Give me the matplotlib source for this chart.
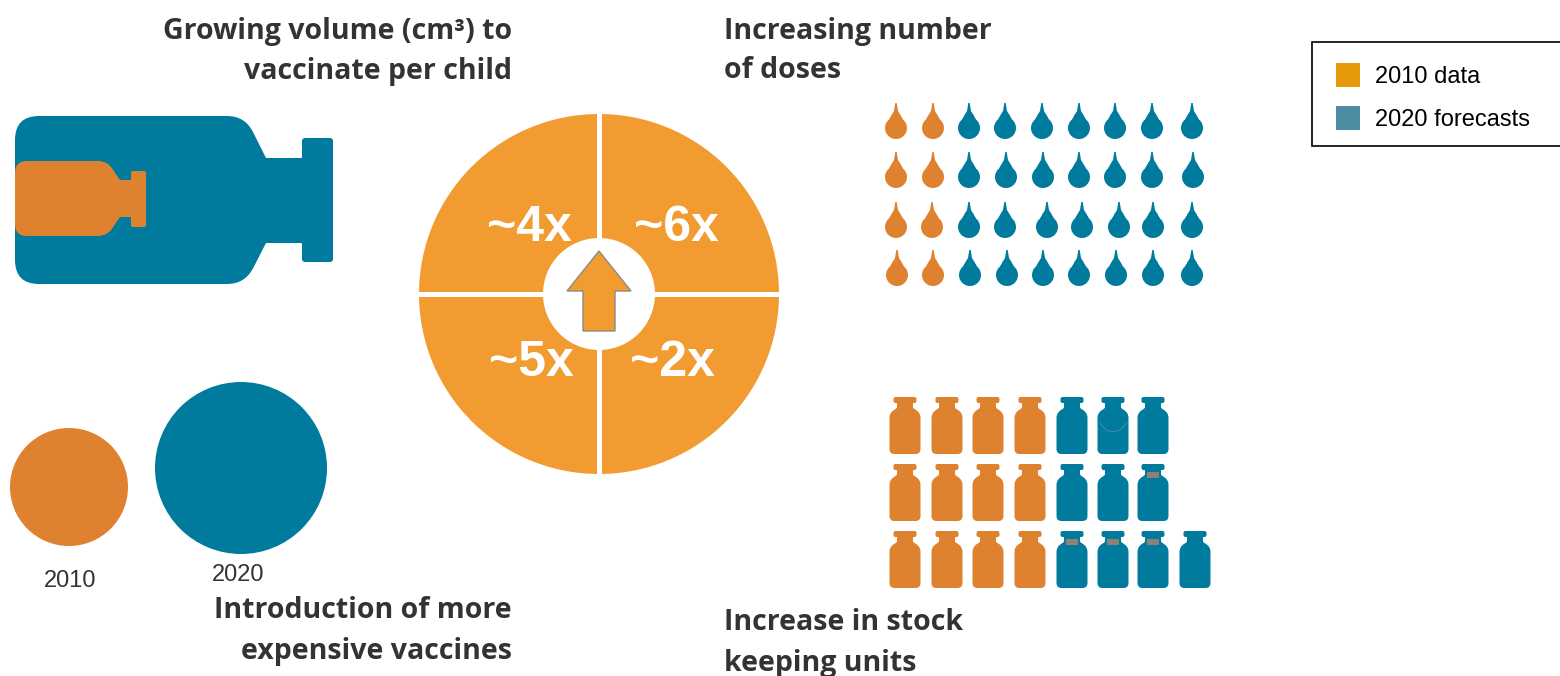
import matplotlib
matplotlib.use('Agg')
import numpy as np
import matplotlib.pyplot as plt
from matplotlib.patches import Circle, PathPatch, Polygon, Rectangle
from matplotlib.path import Path

# data
quadrant_labels = ['~4x', '~6x', '~5x', '~2x']
doses_2010 = [2, 2, 2, 2]
doses_2020 = [7, 7, 7, 7]
skus_2010 = [4, 4, 4]
skus_2020 = [3, 3, 4]
legend_labels = ['2010 data', '2020 forecasts']
year_labels = ['2010', '2020']

ORANGE = '#DE8230'
TEAL = '#007B9E'
WHEEL = '#F29B30'

# layout, pixels
drop_x = [[896, 933, 969, 1005, 1042, 1079, 1115, 1152, 1192],
          [896, 933, 969, 1006, 1043, 1079, 1115, 1152, 1193],
          [896, 932, 969, 1005, 1047, 1082, 1119, 1153, 1192],
          [897, 933, 970, 1007, 1043, 1079, 1116, 1153, 1192]]
drop_y = [128, 177, 227, 275]
vial_x = [905, 947, 988, 1030, 1072, 1113, 1153, 1195]
vial_top = [397, 464, 531]
# vials with the grey band on the neck: (row, column)
grey_necks = [(1, 6), (2, 4), (2, 5), (2, 6)]


def rounded(points, radii):
    # closed path through points, with corners cut by quadratic curves
    pts = np.array(points, dtype=float)
    n = len(pts)
    verts, codes = [], []
    for i in range(n):
        p, a, b = pts[i], pts[i - 1], pts[(i + 1) % n]
        r = radii[i]
        u = (a - p) / np.linalg.norm(a - p)
        v = (b - p) / np.linalg.norm(b - p)
        verts.append(p + u * r)
        codes.append(Path.MOVETO if i == 0 else Path.LINETO)
        verts += [p, p + v * r]
        codes += [Path.CURVE3, Path.CURVE3]
    verts.append(verts[0])
    codes.append(Path.CLOSEPOLY)
    return Path(verts, codes)


def add_drop(ax, cx, cy, color):
    r = 11
    t = np.radians(np.linspace(-50, 230, 40))
    body = np.column_stack([cx + r * np.cos(t), cy + r * np.sin(t)])
    right = [(cx + 0.7, cy - 25), (cx + 2, cy - 17), (cx + 4.5, cy - 13)]
    left = [(cx - 4.5, cy - 13), (cx - 2, cy - 17), (cx - 0.7, cy - 25)]
    ax.add_patch(Polygon(np.vstack([right, body, left]), closed=True, fc=color, ec='none'))


def add_vial(ax, cx, top, color):
    w, h = 15.5, 57
    pts = [(cx - 11.5, top), (cx + 11.5, top), (cx + 11.5, top + 6), (cx + 8, top + 6),
           (cx + 8, top + 11), (cx + w, top + 16), (cx + w, top + h), (cx - w, top + h),
           (cx - w, top + 16), (cx - 8, top + 11), (cx - 8, top + 6), (cx - 11.5, top + 6)]
    rad = [2, 2, 2, 0.5, 1, 5, 5, 5, 5, 1, 0.5, 2]
    ax.add_patch(PathPatch(rounded(pts, rad), fc=color, ec='none'))


fig = plt.figure(figsize=(15.6, 6.76), dpi=100)
ax = fig.add_axes([0, 0, 1, 1])
ax.set_xlim(0, 1560)
ax.set_ylim(676, 0)
ax.axis('off')

# big and small bottle
big = [(15, 116), (245, 116), (266, 158), (302, 158), (302, 138), (333, 138), (333, 262),
       (302, 262), (302, 243), (266, 243), (245, 284), (15, 284)]
ax.add_patch(PathPatch(rounded(big, [24, 18, 1, 1, 3, 3, 3, 3, 1, 1, 18, 24]), fc=TEAL, ec='none'))
small = [(15, 161), (107, 161), (120, 180), (131, 180), (131, 171), (146, 171), (146, 227),
         (131, 227), (131, 217), (120, 217), (107, 236), (15, 236)]
ax.add_patch(PathPatch(rounded(small, [12, 9, 1, 1, 2, 2, 2, 2, 1, 1, 9, 12]), fc=ORANGE, ec='none'))

# price circles
ax.add_patch(Circle((69, 487), 59, fc=ORANGE, ec='none'))
ax.add_patch(Circle((241, 468), 86, fc=TEAL, ec='none'))
ax.text(70, 581, year_labels[0], ha='center', va='center', fontsize=17,
        family='Liberation Sans', color='#333333')
ax.text(238, 575, year_labels[1], ha='center', va='center', fontsize=17,
        family='Liberation Sans', color='#333333')

# centre wheel
ax.add_patch(Circle((599, 294), 180, fc=WHEEL, ec='none', zorder=1))
ax.plot([599, 599], [112, 476], color='white', lw=3.6, solid_capstyle='butt', zorder=2)
ax.plot([417, 781], [294, 294], color='white', lw=3.6, solid_capstyle='butt', zorder=2)
ax.add_patch(Circle((599, 294), 56, fc='white', ec='none', zorder=3))
ax.add_patch(Polygon([(599, 251), (631, 291), (615, 291), (615, 331), (583, 331), (583, 291), (567, 291)],
                     closed=True, fc=WHEEL, ec='#8A8A8A', lw=1, zorder=4))
label_pos = [(529, 228), (676, 228), (531, 363), (672, 363)]
for lab, (x, y) in zip(quadrant_labels, label_pos):
    ax.text(x, y, lab, ha='center', va='center', fontsize=36, fontweight='bold',
            family='Liberation Sans', color='white', zorder=5)

# doses
for row, (n_old, n_new) in enumerate(zip(doses_2010, doses_2020)):
    for i in range(n_old + n_new):
        add_drop(ax, drop_x[row][i], drop_y[row], ORANGE if i < n_old else TEAL)

# stock keeping units
for row, (n_old, n_new) in enumerate(zip(skus_2010, skus_2020)):
    for i in range(n_old + n_new):
        add_vial(ax, vial_x[i], vial_top[row], ORANGE if i < n_old else TEAL)
for row, col in grey_necks:
    ax.add_patch(Rectangle((vial_x[col] - 6, vial_top[row] + 8), 12, 6, fc='#8F7F78', ec='none', zorder=3))
# faint arc on the sixth vial of the top row
ax.plot([1100, 1106, 1113, 1120, 1127], [423, 430, 432, 430, 423], color='#3A8CA6', lw=0.8, zorder=3)

# headings
head = dict(fontsize=20.5, fontweight='bold', family='Open Sans', color='#333333', va='center')
ax.text(512, 31, 'Growing volume (cm³) to', ha='right', **head)
ax.text(512, 71, 'vaccinate per child', ha='right', **head)
ax.text(724, 31, 'Increasing number', ha='left', **head)
ax.text(724, 71, 'of doses', ha='left', **head)
ax.text(512, 610, 'Introduction of more', ha='right', **head)
ax.text(512, 651, 'expensive vaccines', ha='right', **head)
ax.text(724, 623, 'Increase in stock', ha='left', **head)
ax.text(724, 664, 'keeping units', ha='left', **head)

# legend
ax.add_patch(Rectangle((1312, 42), 250, 104, fc='white', ec='black', lw=1.2, clip_on=True))
for lab, col, y in zip(legend_labels, ['#E59A0C', '#4E8CA3'], [75, 118]):
    ax.add_patch(Rectangle((1336, y - 12), 24, 24, fc=col, ec='none'))
    ax.text(1375, y + 2, lab, ha='left', va='center', fontsize=17, family='Liberation Sans', color='black')

fig.savefig('out.png', dpi=100)
